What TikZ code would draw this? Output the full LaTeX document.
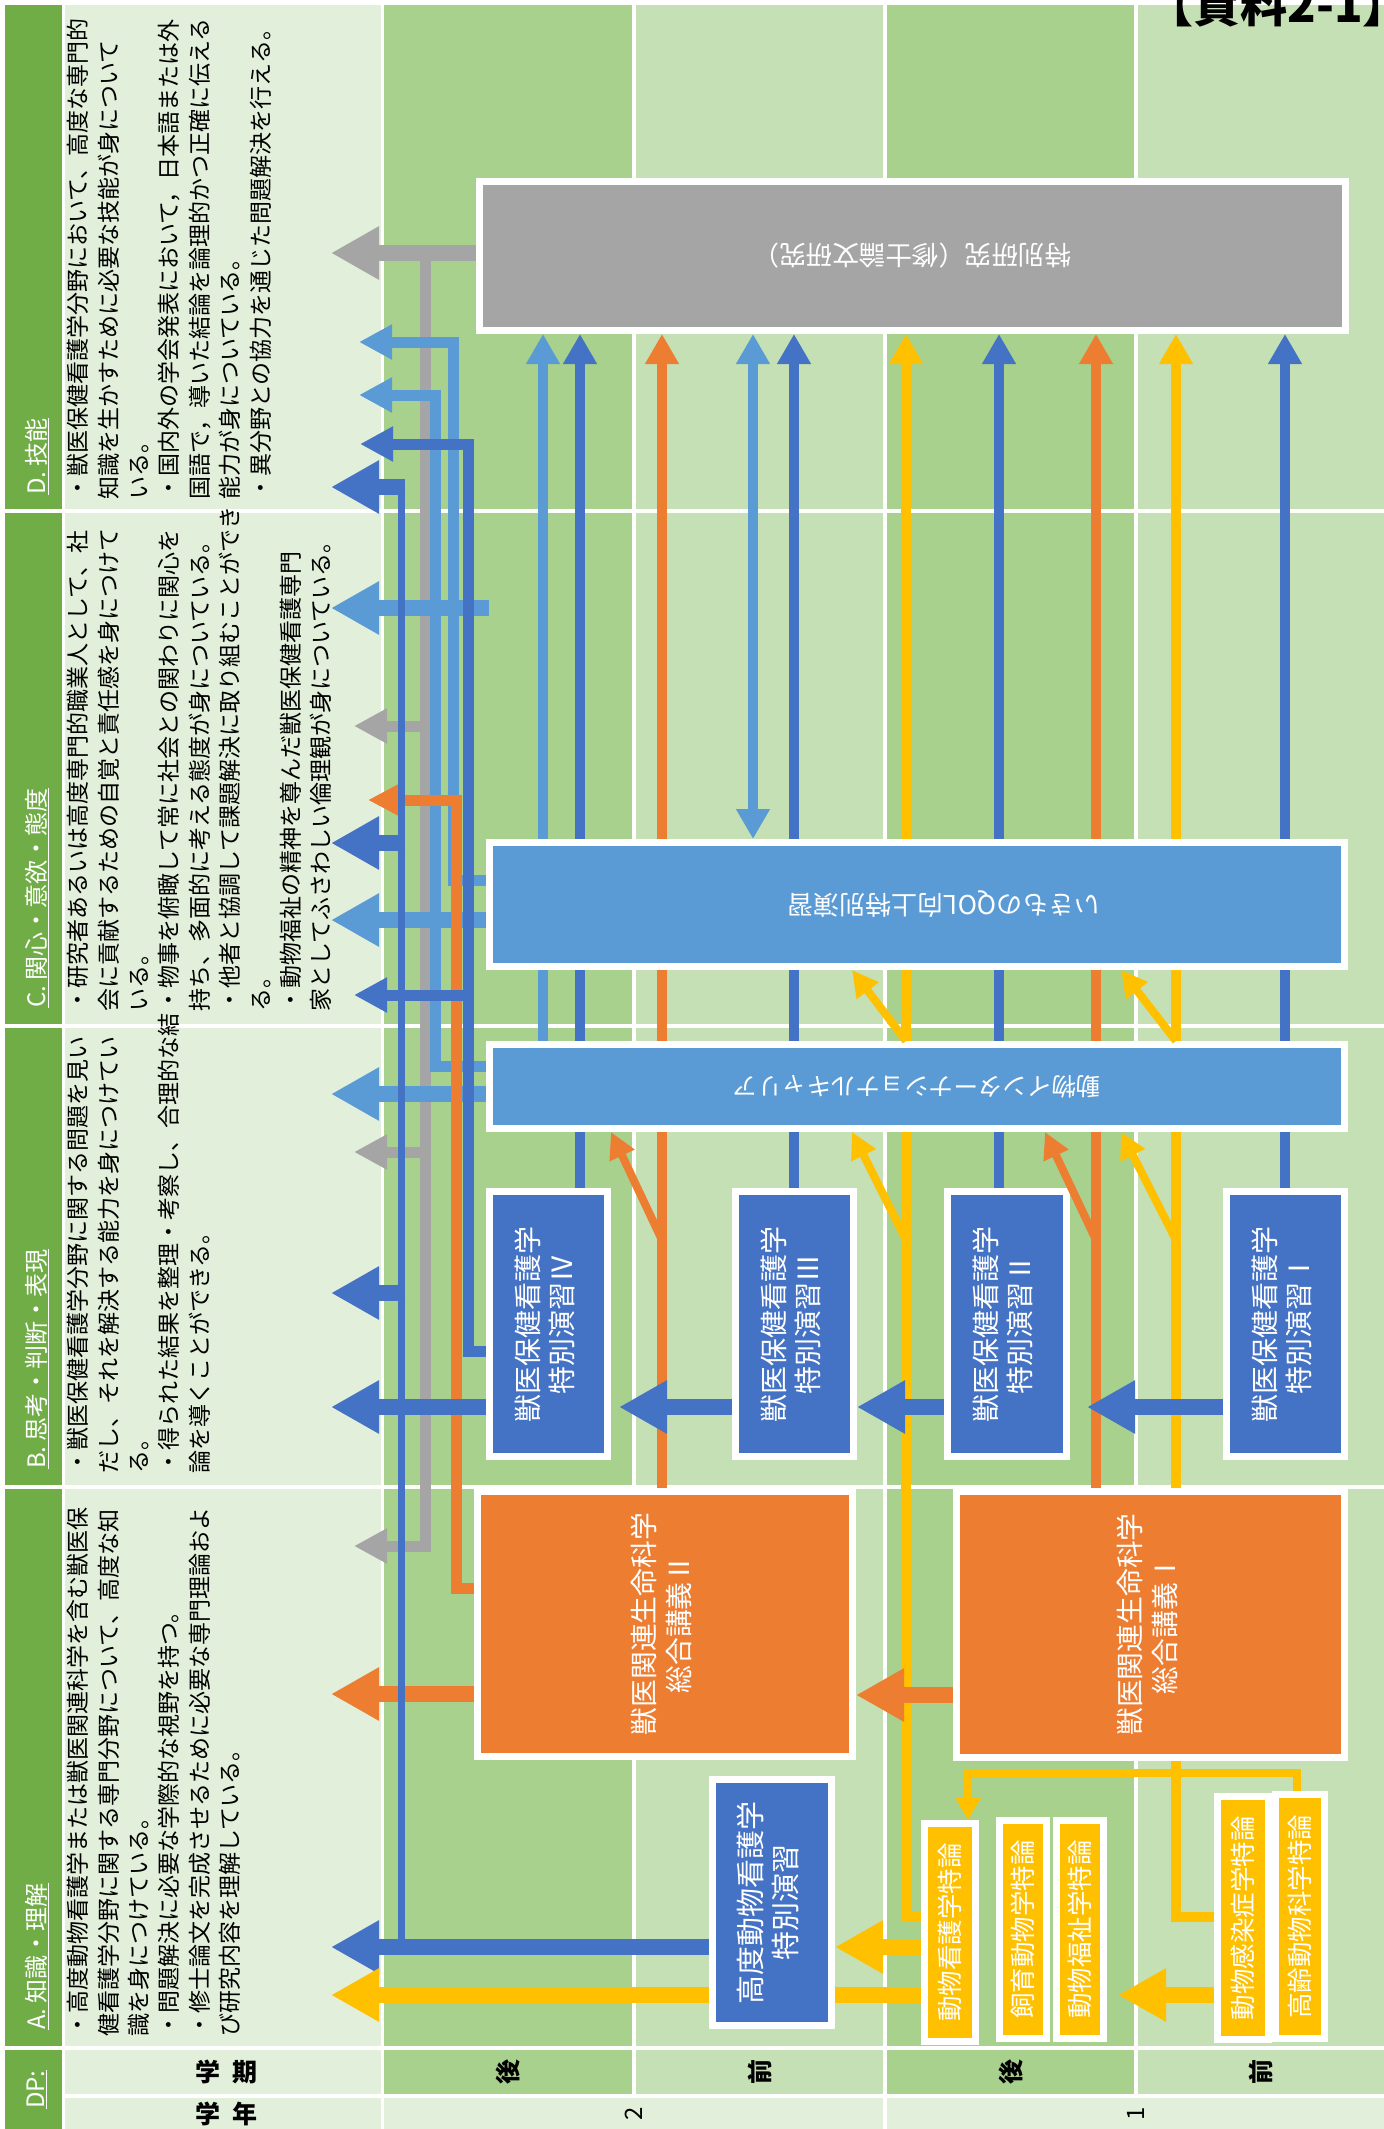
\documentclass[tikz,border=0pt]{standalone}
\usepackage{fontspec}
\setmainfont{Noto Sans CJK JP}
\usepackage{graphicx}
\usetikzlibrary{arrows.meta}
\pgfdeclarelayer{table}
\pgfdeclarelayer{links}
\pgfsetlayers{table,links,main}

\definecolor{hdrgreen}{HTML}{70AD47}
\definecolor{descgreen}{HTML}{E2EFDA}
\definecolor{latecol}{HTML}{A9D18E}
\definecolor{earlycol}{HTML}{C5E0B4}
\definecolor{lblue}{HTML}{5B9BD5}
\definecolor{dblue}{HTML}{4472C4}
\definecolor{orng}{HTML}{ED7D31}
\definecolor{yllw}{HTML}{FFC000}
\definecolor{gry}{HTML}{A5A5A5}

\newcommand{\twolines}[2]{\rotatebox{90}{\begin{tabular}{@{}c@{}}#1\\#2\end{tabular}}}

\begin{document}
\begin{tikzpicture}[x=1pt, y=-1pt,
  cbox/.style={draw=white, line width=7pt, inner sep=0pt, text=white, align=center},
  bigarr/.style={line width=16pt, -{Triangle[length=48pt,width=50pt]}},
  smallarr/.style={line width=11pt, -{Triangle[length=33pt,width=33pt]}},
  uparr/.style={line width=10pt, -{Triangle[length=30pt,width=32pt]}},
  diagarr/.style={line width=8pt, -{Triangle[length=26pt,width=26pt]}},
  desctext/.style={rotate=90, anchor=north west, inner sep=0pt, align=left, font=\fontsize{23}{30.4}\selectfont},
  dphead/.style={rotate=90, anchor=west, inner sep=0pt, text=white, font=\fontsize{24}{28}\selectfont},
  semtext/.style={rotate=90, inner sep=0pt, font=\fontsize{25}{28}\selectfont\bfseries},
]
\useasboundingbox (0,0) rectangle (1384,2129);

\begin{pgfonlayer}{table}
\fill[white] (0,0) rectangle (1384,2129);

% Table cells
\foreach \ya/\yb in {5/509, 513/1024, 1028/1485, 1489/2046} {
  \fill[hdrgreen] (5,\ya) rectangle (62,\yb);
  \fill[descgreen] (65,\ya) rectangle (381,\yb);
  \fill[latecol] (384,\ya) rectangle (632,\yb);
  \fill[earlycol] (636,\ya) rectangle (883,\yb);
  \fill[latecol] (887,\ya) rectangle (1134,\yb);
  \fill[earlycol] (1138,\ya) rectangle (1384,\yb);
}
\fill[hdrgreen] (5,2050) rectangle (62,2129);
\fill[descgreen] (65,2050) rectangle (381,2094);
\fill[descgreen] (65,2098) rectangle (381,2129);
\fill[latecol] (384,2050) rectangle (632,2094);
\fill[earlycol] (636,2050) rectangle (883,2094);
\fill[latecol] (887,2050) rectangle (1134,2094);
\fill[earlycol] (1138,2050) rectangle (1384,2094);
\fill[descgreen] (384,2098) rectangle (883,2129);
\fill[descgreen] (887,2098) rectangle (1384,2129);

% DP headings
\node[dphead] (hD) at (37,495) {\underline{D.\ 技能}};
\node[dphead] (hC) at (37,1008) {\underline{C.\ 関心・意欲・態度}};
\node[dphead] (hB) at (37,1469) {\underline{B.\ 思考・判断・表現}};
\node[dphead] (hA) at (37,2030) {\underline{A.\ 知識・理解}};
\node[dphead] (hDP) at (37,2109) {\underline{DP:}};

% DP descriptions
\node[desctext] (dD) at (67,500) {・獣医保健看護学分野において、高度な専門的\\知識を生かすために必要な技能が身について\\いる。\\・国内外の学会発表において，日本語または外\\国語で，導いた結論を論理的かつ正確に伝える\\能力が身についている。\\・異分野との協力を通じた問題解決を行える。};
\node[desctext] (dC) at (67,1012) {・研究者あるいは高度専門的職業人として、社\\会に貢献するための自覚と責任感を身につけて\\いる。\\・物事を俯瞰して常に社会との関わりに関心を\\持ち、多面的に考える態度が身についている。\\・他者と協調して課題解決に取り組むことができ\\る。\\・動物福祉の精神を尊んだ獣医保健看護専門\\家としてふさわしい倫理観が身についている。};
\node[desctext] (dB) at (67,1474) {・獣医保健看護学分野に関する問題を見い\\だし、それを解決する能力を身につけてい\\る。\\・得られた結果を整理・考察し、合理的な結\\論を導くことができる。};
\node[desctext] (dA) at (67,2037) {・高度動物看護学または獣医関連科学を含む獣医保\\健看護学分野に関する専門分野について、高度な知\\識を身につけている。\\・問題解決に必要な学際的な視野を持つ。\\・修士論文を完成させるために必要な専門理論およ\\び研究内容を理解している。};

% Term and year labels
\node[font=\fontsize{25}{28}\selectfont\bfseries] (term) at (226,2072) {学\hspace{12pt}期};
\node[font=\fontsize{25}{28}\selectfont\bfseries] (year) at (226,2114) {学\hspace{12pt}年};
\node[semtext] (s1) at (508,2072) {後};
\node[semtext] (s2) at (759.5,2072) {前};
\node[semtext] (s3) at (1010.5,2072) {後};
\node[semtext] (s4) at (1261,2072) {前};
\node[rotate=90, inner sep=0pt, font=\fontsize{24}{28}\selectfont] (y2) at (633.5,2114) {2};
\node[rotate=90, inner sep=0pt, font=\fontsize{24}{28}\selectfont] (y1) at (1135.5,2114) {1};

% Title
\node[anchor=base east, inner sep=0pt, font=\fontsize{47}{47}\selectfont\bfseries] (title) at (1410,22) {【資料2-1】};
\end{pgfonlayer}

% Courses
\node[cbox, fill=gry, minimum width=866pt, minimum height=149pt, font=\fontsize{26.5}{30}\selectfont] (research) at (912,256) {\rotatebox{180}{特別研究（修士論文研究）}};
\node[cbox, fill=lblue, minimum width=855pt, minimum height=124pt, font=\fontsize{26}{30}\selectfont] (qol) at (917,904.5) {\rotatebox{180}{いきものQOL向上特別演習\hspace{54pt}}};
\node[cbox, fill=lblue, minimum width=855pt, minimum height=84pt, font=\fontsize{24.5}{30}\selectfont] (intern) at (917,1086.5) {\rotatebox{180}{動物インターナショナルキャリア}};
\node[cbox, fill=dblue, minimum width=118pt, minimum height=265pt, font=\fontsize{28}{34}\selectfont] (ens4) at (548.5,1324) {\twolines{獣医保健看護学}{特別演習Ⅳ}};
\node[cbox, fill=dblue, minimum width=118pt, minimum height=265pt, font=\fontsize{28}{34}\selectfont] (ens3) at (794.5,1324) {\twolines{獣医保健看護学}{特別演習Ⅲ}};
\node[cbox, fill=dblue, minimum width=119pt, minimum height=265pt, font=\fontsize{28}{34}\selectfont] (ens2) at (1007,1324) {\twolines{獣医保健看護学}{特別演習Ⅱ}};
\node[cbox, fill=dblue, minimum width=118pt, minimum height=265pt, font=\fontsize{28}{34}\selectfont] (ens1) at (1285.5,1324) {\twolines{獣医保健看護学}{特別演習Ⅰ}};
\node[cbox, fill=orng, minimum width=375pt, minimum height=265pt, font=\fontsize{27.8}{35}\selectfont] (lec2) at (665,1624) {\twolines{獣医関連生命科学}{総合講義Ⅱ}};
\node[cbox, fill=orng, minimum width=388pt, minimum height=266pt, font=\fontsize{27.8}{35}\selectfont] (lec1) at (1150.5,1624.5) {\twolines{獣医関連生命科学}{総合講義Ⅰ}};
\node[cbox, fill=dblue, minimum width=119pt, minimum height=246pt, font=\fontsize{29}{34}\selectfont] (adv) at (772,1902.5) {\twolines{高度動物看護学}{特別演習}};
\node[cbox, fill=yllw, minimum width=51pt, minimum height=218pt, font=\fontsize{25.5}{28}\selectfont] (ynurs) at (950,1932.5) {\rotatebox{90}{動物看護学特論}};
\node[cbox, fill=yllw, minimum width=47pt, minimum height=218pt, font=\fontsize{25.5}{28}\selectfont] (ybreed) at (1023,1929.5) {\rotatebox{90}{飼育動物学特論}};
\node[cbox, fill=yllw, minimum width=47pt, minimum height=218pt, font=\fontsize{25.5}{28}\selectfont] (ywelf) at (1080,1929.5) {\rotatebox{90}{動物福祉学特論}};
\node[cbox, fill=yllw, minimum width=51pt, minimum height=243pt, font=\fontsize{25.5}{28}\selectfont] (yinf) at (1243,1918) {\rotatebox{90}{動物感染症学特論}};
\node[cbox, fill=yllw, minimum width=49pt, minimum height=244pt, font=\fontsize{25.5}{28}\selectfont] (yaged) at (1300,1916.5) {\rotatebox{90}{高齢動物科学特論}};

\begin{pgfonlayer}{links}
% Gray: research to all DP
\draw[bigarr, gry] (research.west |- 0,253) -- (331,253);
\draw[line width=11pt, gry, -{Triangle[length=33pt,width=33pt]}] (425,253) -- (425,1546) -- (354,1546);
\foreach \yy in {726,1152}
  \draw[smallarr, gry] (425,\yy) -- (354,\yy);

% Links up into research
\draw[uparr, lblue] (intern.north -| 543,0) -- (research.south -| 543,0);
\draw[uparr, dblue] (ens4.north -| 580,0) -- (research.south -| 580,0);
\draw[uparr, orng] (lec2.north -| 662,0) -- (research.south -| 662,0);
\draw[line width=10pt, lblue, {Triangle[length=30pt,width=32pt]}-{Triangle[length=30pt,width=32pt]}] (qol.north -| 753,0) -- (research.south -| 753,0);
\draw[uparr, dblue] (ens3.north -| 794,0) -- (research.south -| 794,0);
\draw[uparr, yllw] (ynurs.west |- 0,1917) -- (906,1917) -- (research.south -| 906,0);
\draw[uparr, dblue] (ens2.north -| 999,0) -- (research.south -| 999,0);
\draw[uparr, orng] (lec1.north -| 1096,0) -- (research.south -| 1096,0);
\draw[uparr, yllw] (yinf.west |- 0,1917) -- (1176,1917) -- (research.south -| 1176,0);
\draw[uparr, dblue] (ens1.north -| 1285,0) -- (research.south -| 1285,0);

% Light blue to DP
\draw[smallarr, lblue] (qol.west |- 0,880) -- (453,880) -- (453,342) -- (359,342);
\draw[smallarr, lblue] (intern.west |- 0,1066) -- (435,1066) -- (435,395) -- (359,395);
\draw[bigarr, lblue] (489,608) -- (331,608);
\draw[bigarr, lblue] (qol.west |- 0,920) -- (331,920);
\draw[bigarr, lblue] (intern.west |- 0,1094) -- (331,1094);

% Orange to DP
\draw[line width=11pt, orng, -{Triangle[length=30pt,width=29pt]}] (lec2.west |- 0,1588) -- (456,1588) -- (456,800) -- (368,800);
\draw[bigarr, orng] (lec2.west |- 0,1694) -- (331,1694);

% Dark blue to DP
\draw[smallarr, dblue] (ens4.west |- 0,1351) -- (468,1351) -- (468,444) -- (360,444);
\draw[smallarr, dblue] (468,995) -- (354,995);
\draw[bigarr, dblue] (ens4.west |- 0,1407) -- (331,1407);
\draw[bigarr, dblue] (adv.west |- 0,1947) -- (331,1947);
\draw[line width=7pt, dblue] (401,1947) -- (401,480);
\foreach \yy in {487,843,1293}
  \draw[bigarr, dblue] (405,\yy) -- (331,\yy);

% Yellow
\draw[bigarr, yllw] (ynurs.west |- 0,1995) -- (331,1995);
\draw[line width=8pt, yllw, -{Triangle[length=23pt,width=25pt]}] (yaged.north -| 1297,0) -- (1297,1773) -- (968,1773) -- (ynurs.north -| 968,0);
\end{pgfonlayer}

% Links between courses
\draw[bigarr, dblue] (ens3.west |- 0,1407) -- (619,1407);
\draw[bigarr, dblue] (ens2.west |- 0,1407) -- (857,1407);
\draw[bigarr, dblue] (ens1.west |- 0,1407) -- (1087,1407);
\draw[bigarr, orng] (lec1.west |- 0,1695) -- (lec2.east |- 0,1695);
\draw[bigarr, yllw] (ynurs.west |- 0,1947) -- (adv.east |- 0,1947);
\draw[bigarr, yllw] (yinf.west |- 0,1995) -- (1118,1995);

% Diagonal links
\draw[diagarr, orng] (662,1240) -- (intern.south -| 611,0);
\draw[diagarr, orng] (1096,1240) -- (intern.south -| 1045,0);
\draw[diagarr, yllw] (906,1240) -- (intern.south -| 852,0);
\draw[diagarr, yllw] (1176,1240) -- (intern.south -| 1121,0);
\draw[diagarr, yllw] (intern.north -| 906,0) -- (qol.south -| 852,0);
\draw[diagarr, yllw] (intern.north -| 1176,0) -- (qol.south -| 1121,0);
\end{tikzpicture}
\end{document}
